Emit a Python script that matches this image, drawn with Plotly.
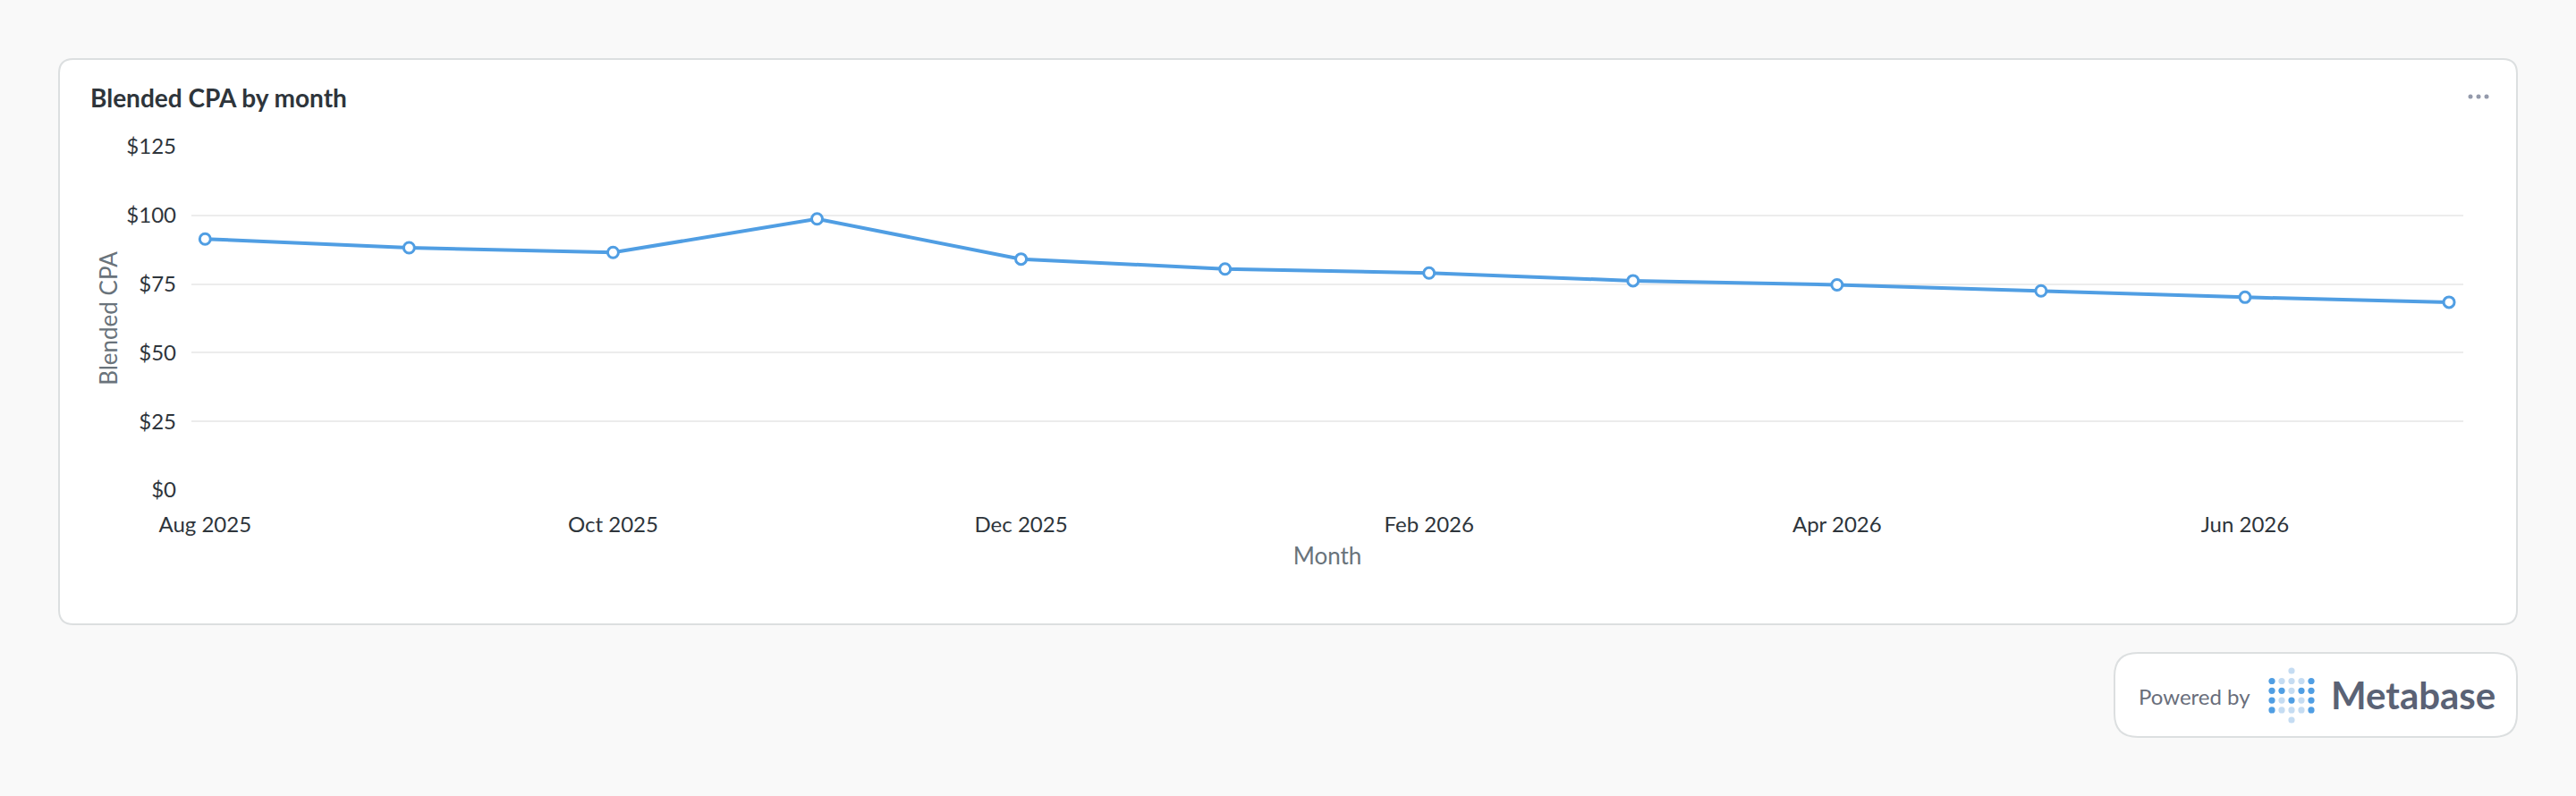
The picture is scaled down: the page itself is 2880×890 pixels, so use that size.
import plotly.graph_objects as go

# Data
months = [
    'Aug 2025', 'Sep 2025', 'Oct 2025', 'Nov 2025', 'Dec 2025', 'Jan 2026',
    'Feb 2026', 'Mar 2026', 'Apr 2026', 'May 2026', 'Jun 2026', 'Jul 2026'
]
blended_cpa = [91.4, 88.2, 86.5, 98.7, 84.1, 80.5, 79.0, 76.2, 74.7, 72.5, 70.2, 68.4]
x_tick_labels = ['Aug 2025', 'Oct 2025', 'Dec 2025', 'Feb 2026', 'Apr 2026', 'Jun 2026']
y_tick_values = [0, 25, 50, 75, 100, 125]
y_tick_labels = ['$0', '$25', '$50', '$75', '$100', '$125']

# Page geometry (screen pixels)
W, H = 2880, 890
ML, MR, MT, MB = 214, 126, 164, 342

BLUE = '#509ee3'
LIGHT_BLUE = '#c5dcf2'
TEXT_DARK = '#2e353b'
TEXT_MUTED = '#69737b'
BORDER = '#dcdfe0'
FONT = 'Lato'


def px_x(px):
    return (px - ML) / (W - ML - MR)


def px_y(py):
    return (H - MB - py) / (H - MT - MB)


def rounded_rect(x0, y0, x1, y1, r):
    """SVG path (paper coords) for a rounded rectangle given in screen px."""
    pts = [
        ('M', [(x0 + r, y0)]),
        ('L', [(x1 - r, y0)]),
        ('Q', [(x1, y0), (x1, y0 + r)]),
        ('L', [(x1, y1 - r)]),
        ('Q', [(x1, y1), (x1 - r, y1)]),
        ('L', [(x0 + r, y1)]),
        ('Q', [(x0, y1), (x0, y1 - r)]),
        ('L', [(x0, y0 + r)]),
        ('Q', [(x0, y0), (x0 + r, y0)]),
    ]
    parts = []
    for cmd, coords in pts:
        parts.append(cmd + ' ' + ' '.join(f'{px_x(a):.5f},{px_y(b):.5f}' for a, b in coords))
    return ' '.join(parts) + ' Z'


def dot(cx, cy, r, color):
    return dict(
        type='circle', xref='paper', yref='paper',
        x0=px_x(cx - r), x1=px_x(cx + r), y0=px_y(cy + r), y1=px_y(cy - r),
        fillcolor=color, line=dict(width=0), layer='above'
    )


fig = go.Figure()

fig.add_trace(go.Scatter(
    x=months,
    y=blended_cpa,
    mode='lines+markers',
    line=dict(color=BLUE, width=4),
    marker=dict(size=12, color='white', line=dict(color=BLUE, width=3)),
    showlegend=False,
    hovertemplate='%{x}<br>$%{y:.2f}<extra></extra>'
))

shapes = [
    # card
    dict(type='path', xref='paper', yref='paper', layer='below',
         path=rounded_rect(66, 66, 2814, 698, 16),
         fillcolor='white', line=dict(color=BORDER, width=2)),
    # "powered by" badge
    dict(type='path', xref='paper', yref='paper', layer='below',
         path=rounded_rect(2364, 730, 2814, 824, 26),
         fillcolor='white', line=dict(color=BORDER, width=2)),
]

# "..." menu in the card corner
for cx in (2762, 2771, 2780):
    shapes.append(dot(cx, 108, 2.5, '#949aab'))

# Metabase logo dots (M pattern), 1 = dark dot
logo = [
    [1, 0, 0, 0, 1],
    [1, 1, 0, 1, 1],
    [1, 0, 1, 0, 1],
    [1, 0, 0, 0, 1],
]
for row, flags in enumerate(logo):
    for col, dark in enumerate(flags):
        shapes.append(dot(2540 + col * 11, 761.5 + row * 10.8, 3.6, BLUE if dark else LIGHT_BLUE))
shapes.append(dot(2562, 750, 3.6, LIGHT_BLUE))
shapes.append(dot(2562, 805, 3.6, LIGHT_BLUE))

annotations = [
    dict(text='<b>Blended CPA by month</b>', xref='paper', yref='paper',
         x=px_x(99), y=px_y(109), xanchor='left', yanchor='middle', showarrow=False,
         font=dict(family=FONT, size=28, color=TEXT_DARK)),
    dict(text='Powered by', xref='paper', yref='paper',
         x=px_x(2389), y=px_y(778), xanchor='left', yanchor='middle', showarrow=False,
         font=dict(family=FONT, size=24, color='#696e7b')),
    dict(text='<b>Metabase</b>', xref='paper', yref='paper',
         x=px_x(2604), y=px_y(777), xanchor='left', yanchor='middle', showarrow=False,
         font=dict(family=FONT, size=42, color='#5a6275')),
]

fig.update_layout(
    width=W,
    height=H,
    autosize=False,
    margin=dict(l=ML, r=MR, t=MT, b=MB, autoexpand=False),
    paper_bgcolor='#f9f9f9',
    plot_bgcolor='rgba(0,0,0,0)',
    font=dict(family=FONT, size=24, color=TEXT_DARK),
    shapes=shapes,
    annotations=annotations,
    xaxis=dict(
        type='category',
        range=[-0.067, 11.07],
        tickvals=x_tick_labels,
        ticktext=x_tick_labels,
        showgrid=False,
        zeroline=False,
        showline=False,
        ticks='',
        tickfont=dict(family=FONT, size=24, color=TEXT_DARK),
        ticklabelstandoff=22,
        title=dict(text='Month', font=dict(family=FONT, size=26, color=TEXT_MUTED), standoff=13),
    ),
    yaxis=dict(
        range=[0, 125],
        tickvals=y_tick_values,
        ticktext=y_tick_labels,
        showgrid=True,
        gridcolor='#ececec',
        gridwidth=2,
        zeroline=False,
        showline=False,
        ticks='',
        tickfont=dict(family=FONT, size=24, color=TEXT_DARK),
        ticklabelstandoff=16,
        title=dict(text='Blended CPA', font=dict(family=FONT, size=26, color=TEXT_MUTED), standoff=2),
    ),
)

fig.write_html(
    'out.html',
    config={'displayModeBar': False},
    post_script="document.body.style.margin='0';document.body.style.overflow='hidden';"
)
